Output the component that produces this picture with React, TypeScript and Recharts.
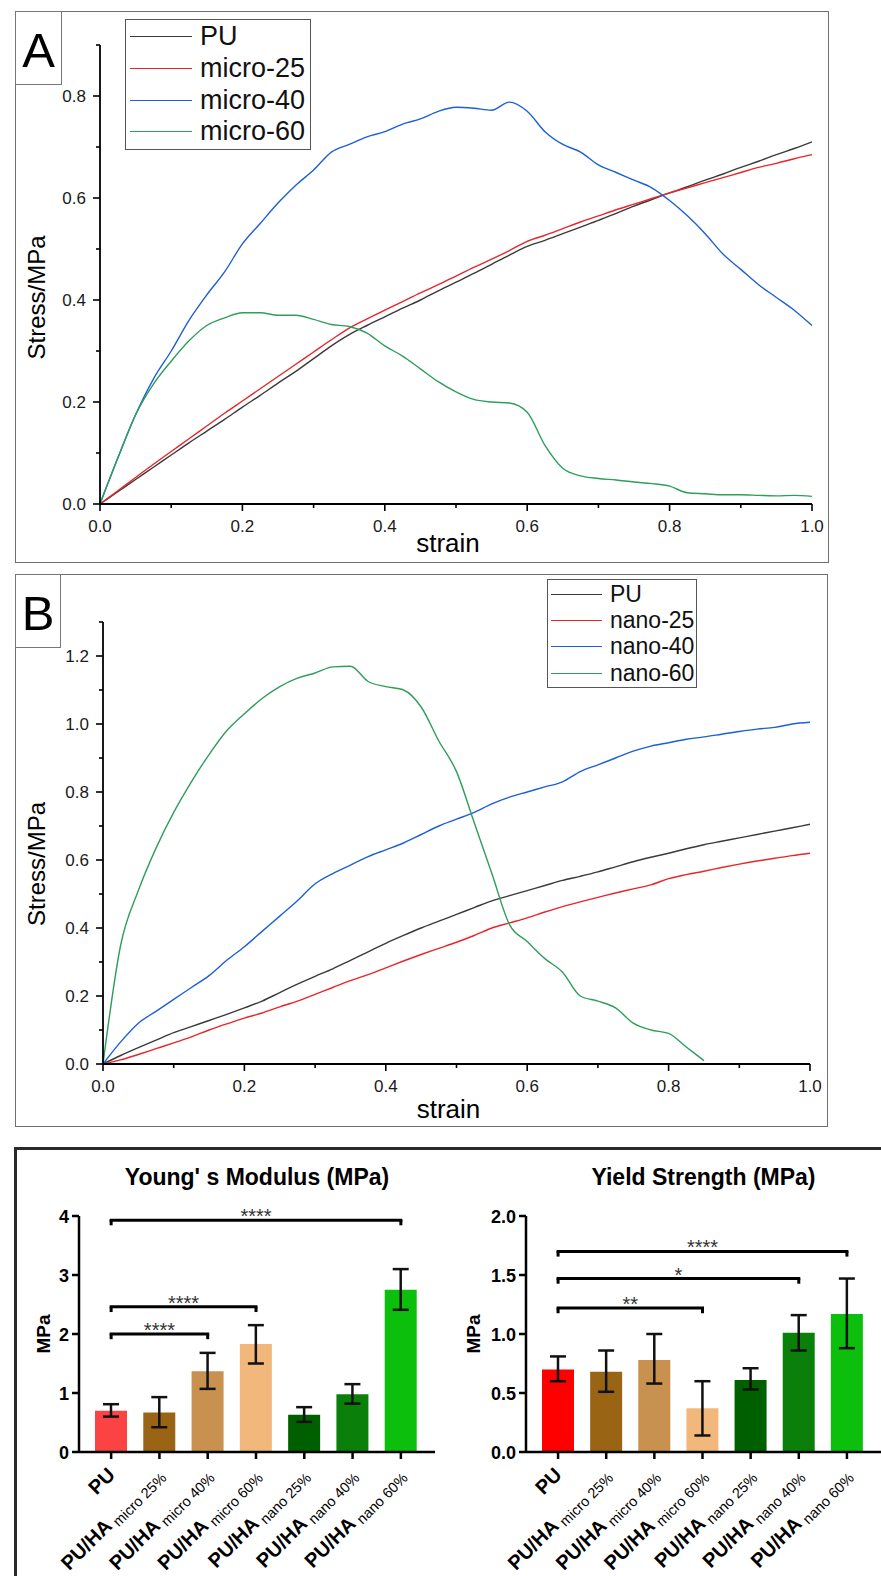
import React from "react";
import {
  LineChart,
  Line,
  XAxis,
  YAxis,
  Legend,
  BarChart,
  Bar,
  Cell,
  ErrorBar,
  ReferenceLine,
} from "recharts";

const FONT = '"Liberation Sans", Arial, sans-serif';

// ---- stress/strain curves, every 0.025 strain ----
const strain = [
  0, 0.025, 0.05, 0.075, 0.1, 0.125, 0.15, 0.175, 0.2, 0.225, 0.25, 0.275, 0.3, 0.325, 0.35, 0.375, 0.4,
  0.425, 0.45, 0.475, 0.5, 0.525, 0.55, 0.575, 0.6, 0.625, 0.65, 0.675, 0.7, 0.725, 0.75, 0.775, 0.8, 0.825,
  0.85, 0.875, 0.9, 0.925, 0.95, 0.975, 1.0,
];

// panel A
const puA = [
  0, 0.024, 0.048, 0.072, 0.096, 0.12, 0.143, 0.166, 0.19, 0.213, 0.237, 0.26, 0.285, 0.31, 0.332, 0.35,
  0.367, 0.384, 0.4, 0.418, 0.435, 0.452, 0.47, 0.488, 0.505, 0.517, 0.53, 0.543, 0.556, 0.57, 0.584, 0.597,
  0.61, 0.622, 0.635, 0.647, 0.66, 0.672, 0.685, 0.697, 0.71,
];
const micro25 = [
  0, 0.026, 0.052, 0.078, 0.103, 0.128, 0.153, 0.178, 0.202, 0.226, 0.25, 0.274, 0.298, 0.322, 0.345, 0.363,
  0.38, 0.397, 0.414, 0.43, 0.447, 0.464, 0.48, 0.497, 0.515, 0.527, 0.54, 0.553, 0.565, 0.577, 0.588, 0.599,
  0.61, 0.62, 0.63, 0.64, 0.65, 0.66, 0.668, 0.677, 0.685,
];
const micro40 = [
  0, 0.09, 0.175, 0.245, 0.3, 0.36, 0.41, 0.455, 0.51, 0.55, 0.59, 0.625, 0.655, 0.69, 0.705, 0.72, 0.73,
  0.745, 0.755, 0.77, 0.778, 0.776, 0.772, 0.788, 0.77, 0.73, 0.705, 0.69, 0.665, 0.65, 0.635, 0.62, 0.595,
  0.565, 0.53, 0.49, 0.46, 0.43, 0.405, 0.38, 0.35,
];
const micro60 = [
  0, 0.09, 0.175, 0.235, 0.28, 0.32, 0.35, 0.365, 0.375, 0.375, 0.37, 0.37, 0.362, 0.352, 0.348, 0.335, 0.31,
  0.29, 0.265, 0.24, 0.22, 0.205, 0.2, 0.198, 0.18, 0.115, 0.07, 0.055, 0.05, 0.047, 0.043, 0.04, 0.035,
  0.022, 0.02, 0.018, 0.018, 0.017, 0.016, 0.017, 0.015,
];

// panel B
const puB = [
  0, 0.025, 0.048, 0.07, 0.092, 0.11, 0.128, 0.146, 0.165, 0.185, 0.21, 0.235, 0.258, 0.28, 0.305, 0.33,
  0.355, 0.378, 0.4, 0.42, 0.44, 0.46, 0.48, 0.495, 0.51, 0.525, 0.54, 0.552, 0.565, 0.58, 0.595, 0.608, 0.62,
  0.633, 0.645, 0.655, 0.665, 0.675, 0.685, 0.695, 0.705,
];
const nano25 = [
  0, 0.012, 0.028, 0.045, 0.062, 0.08, 0.1, 0.118, 0.135, 0.15, 0.168, 0.185, 0.205, 0.225, 0.245, 0.263,
  0.283, 0.303, 0.322, 0.34, 0.358, 0.378, 0.4, 0.415, 0.43, 0.447, 0.463, 0.477, 0.49, 0.503, 0.515, 0.527,
  0.545, 0.557, 0.567, 0.578, 0.588, 0.597, 0.605, 0.613, 0.62,
];
const nano40 = [
  0, 0.065, 0.12, 0.155, 0.19, 0.225, 0.26, 0.305, 0.345, 0.39, 0.435, 0.48, 0.53, 0.56, 0.585, 0.61, 0.63,
  0.65, 0.675, 0.7, 0.72, 0.74, 0.765, 0.785, 0.8, 0.815, 0.83, 0.86, 0.88, 0.9, 0.92, 0.935, 0.945, 0.955,
  0.962, 0.97, 0.978, 0.985, 0.99, 1.0, 1.005,
];
// nano-60 breaks at ~0.85 strain
const nano60 = [
  0, 0.35, 0.51, 0.635, 0.74, 0.83, 0.91, 0.98, 1.03, 1.075, 1.11, 1.135, 1.15, 1.168, 1.17, 1.125, 1.11,
  1.1, 1.05, 0.95, 0.86, 0.71, 0.56, 0.41, 0.36, 0.31, 0.27, 0.2, 0.185, 0.165, 0.12, 0.1, 0.09, 0.05, 0.01,
];

const namesA = ["PU", "micro-25", "micro-40", "micro-60"];
const namesB = ["PU", "nano-25", "nano-40", "nano-60"];
const lineColors = ["#3a3a3a", "#e8262a", "#1d5fd6", "#2e9e5b"];

const strainTicks = [0, 0.1, 0.2, 0.3, 0.4, 0.5, 0.6, 0.7, 0.8, 0.9, 1.0];
const stressTicksA = [0, 0.1, 0.2, 0.3, 0.4, 0.5, 0.6, 0.7, 0.8, 0.9];
const stressTicksB = [0, 0.1, 0.2, 0.3, 0.4, 0.5, 0.6, 0.7, 0.8, 0.9, 1.0, 1.1, 1.2, 1.3];

const seriesA = [puA, micro25, micro40, micro60];
const seriesB = [puB, nano25, nano40, nano60];

const dataA = strain.map((s, i) => {
  const row: any = { strain: s };
  namesA.forEach((n, k) => (row[n] = seriesA[k][i]));
  return row;
});
const dataB = strain.map((s, i) => {
  const row: any = { strain: s };
  namesB.forEach((n, k) => (row[n] = seriesB[k][i]));
  return row;
});

// ---- bar charts ----
const groups = ["PU", "micro 25%", "micro 40%", "micro 60%", "nano 25%", "nano 40%", "nano 60%"];

const youngMean = [0.7, 0.67, 1.37, 1.83, 0.63, 0.98, 2.75];
const youngHigh = [0.81, 0.93, 1.68, 2.15, 0.76, 1.15, 3.1];
const youngLow = [0.6, 0.42, 1.07, 1.5, 0.51, 0.82, 2.41];

const yieldMean = [0.7, 0.68, 0.78, 0.37, 0.61, 1.01, 1.17];
const yieldHigh = [0.81, 0.86, 1.0, 0.6, 0.71, 1.16, 1.47];
const yieldLow = [0.6, 0.51, 0.58, 0.14, 0.53, 0.86, 0.88];

const youngColors = ["#fb4343", "#996515", "#c8914f", "#f2b87b", "#006000", "#0a7f0a", "#0cbf0c"];
const yieldColors = ["#ff0000", "#996515", "#c8914f", "#f2b87b", "#006000", "#0a7f0a", "#0cbf0c"];

const youngTicks = [0, 1, 2, 3, 4];
const yieldTicks = [0, 0.5, 1.0, 1.5, 2.0];

// significance brackets: [from, to, height, stars]
const youngBrackets: [string, string, number, string][] = [
  ["PU", "nano 60%", 3.93, "****"],
  ["PU", "micro 60%", 2.46, "****"],
  ["PU", "micro 40%", 2.0, "****"],
];
const yieldBrackets: [string, string, number, string][] = [
  ["PU", "nano 60%", 1.7, "****"],
  ["PU", "nano 40%", 1.47, "*"],
  ["PU", "micro 60%", 1.22, "**"],
];

const youngData = groups.map((g, i) => ({
  name: g,
  mean: youngMean[i],
  err: [youngMean[i] - youngLow[i], youngHigh[i] - youngMean[i]],
}));
const yieldData = groups.map((g, i) => ({
  name: g,
  mean: yieldMean[i],
  err: [yieldMean[i] - yieldLow[i], yieldHigh[i] - yieldMean[i]],
}));

// ---- ticks / labels ----
const isMajor = (v: number) => Math.round(v * 10) % 2 === 0;

const StrainTick = (props: any) => {
  const { x, y, payload } = props;
  const v = payload.value;
  const major = isMajor(v);
  return (
    <g>
      <line x1={x} x2={x} y1={y} y2={y + (major ? 7 : 4)} stroke="#000" strokeWidth={1.6} />
      {major && (
        <text x={x} y={y + 28} textAnchor="middle" fontSize={17} fontFamily={FONT} fill="#1a1a1a">
          {v.toFixed(1)}
        </text>
      )}
    </g>
  );
};

const StressTick = (props: any) => {
  const { x, y, payload } = props;
  const v = payload.value;
  const major = isMajor(v);
  return (
    <g>
      <line x1={x} x2={x - (major ? 7 : 4)} y1={y} y2={y} stroke="#000" strokeWidth={1.6} />
      {major && (
        <text x={x - 14} y={y + 6} textAnchor="end" fontSize={17} fontFamily={FONT} fill="#1a1a1a">
          {v.toFixed(1)}
        </text>
      )}
    </g>
  );
};

const xTitle = (text: string, dx: number, down: number, size: number) => (p: any) => {
  const vb = p.viewBox;
  return (
    <text x={vb.x + vb.width / 2 + dx} y={vb.y + down} textAnchor="middle" fontSize={size} fontFamily={FONT} fill="#000">
      {text}
    </text>
  );
};

const yTitle = (text: string, dx: number, dy: number, size: number, weight: string) => (p: any) => {
  const vb = p.viewBox;
  const cx = vb.x + dx;
  const cy = vb.y + vb.height / 2 + dy;
  return (
    <text
      x={cx}
      y={cy}
      transform={`rotate(-90 ${cx} ${cy})`}
      textAnchor="middle"
      dominantBaseline="central"
      fontSize={size}
      fontWeight={weight}
      fontFamily={FONT}
      fill="#000"
    >
      {text}
    </text>
  );
};

const GroupTick = (props: any) => {
  const { x, y, payload } = props;
  const name = payload.value;
  return (
    <g>
      <line x1={x} x2={x} y1={y} y2={y + 7} stroke="#000" strokeWidth={2.5} />
      <text
        transform={`translate(${x + 5},${y + 24}) rotate(-45)`}
        textAnchor="end"
        fontSize={20}
        fontWeight="bold"
        fontFamily={FONT}
        fill="#000"
      >
        {name === "PU" ? (
          "PU"
        ) : (
          <>
            PU/HA
            <tspan fontSize={14.5} fontWeight="normal" dx={4} dy={4}>
              {name}
            </tspan>
          </>
        )}
      </text>
    </g>
  );
};

const valueTick = (digits: number) => (props: any) => {
  const { x, y, payload } = props;
  return (
    <g>
      <line x1={x} x2={x - 7} y1={y} y2={y} stroke="#000" strokeWidth={2.5} />
      <text x={x - 10} y={y + 6.5} textAnchor="end" fontSize={18} fontWeight="bold" fontFamily={FONT} fill="#000">
        {payload.value.toFixed(digits)}
      </text>
    </g>
  );
};

function CurveLegend({ names, fontSize, rowH, lineLen, gap, inset }: any) {
  return (
    <div
      style={{
        border: "1px solid #555",
        background: "#fff",
        padding: `1px 0 1px ${inset}px`,
        boxSizing: "border-box",
        fontFamily: FONT,
        whiteSpace: "nowrap",
      }}
    >
      {names.map((n: string, i: number) => (
        <div key={n} style={{ display: "flex", alignItems: "center", height: rowH, whiteSpace: "nowrap" }}>
          <span
            style={{
              display: "inline-block",
              flex: "none",
              width: lineLen,
              height: 0,
              borderTop: `1.5px solid ${lineColors[i]}`,
              marginRight: gap,
            }}
          />
          <span style={{ fontSize, lineHeight: 1, color: "#111", whiteSpace: "nowrap" }}>{n}</span>
        </div>
      ))}
    </div>
  );
}

function PanelTag({ letter, left, top, w, h }: any) {
  return (
    <div
      style={{
        position: "absolute",
        left,
        top,
        width: w,
        height: h,
        boxSizing: "border-box",
        border: "1px solid #777",
        display: "flex",
        alignItems: "center",
        justifyContent: "center",
        paddingTop: 4,
        fontSize: 49,
        lineHeight: 1,
        fontFamily: FONT,
        color: "#000",
      }}
    >
      {letter}
    </div>
  );
}

function CurveChart({ data, names, yTicks, yMax, width, height, margin, xHeight, xTitleDown, yTitleDx, yTitleDy, legendStyle, legendFont, legendRow, legendLine, legendInset }: any) {
  return (
    <LineChart width={width} height={height} data={data} margin={margin}>
      <XAxis
        dataKey="strain"
        type="number"
        domain={[0, 1]}
        ticks={strainTicks}
        interval={0}
        height={xHeight}
        tickSize={0}
        tickMargin={0}
        tickLine={false}
        axisLine={{ stroke: "#000", strokeWidth: 1.8 }}
        tick={StrainTick}
        label={xTitle("strain", -8, xTitleDown, 26)}
      />
      <YAxis
        type="number"
        domain={[0, yMax]}
        ticks={yTicks}
        interval={0}
        width={60}
        tickSize={0}
        tickMargin={0}
        tickLine={false}
        axisLine={{ stroke: "#000", strokeWidth: 1.8 }}
        tick={StressTick}
        label={yTitle("Stress/MPa", yTitleDx, yTitleDy, 24, "normal")}
      />
      <Legend
        layout="vertical"
        align="center"
        verticalAlign="middle"
        wrapperStyle={legendStyle}
        content={() => (
          <CurveLegend names={names} fontSize={legendFont} rowH={legendRow} lineLen={legendLine} gap={8} inset={legendInset} />
        )}
      />
      {names.map((n: string, i: number) => (
        <Line
          key={n}
          dataKey={n}
          name={n}
          type="monotone"
          stroke={lineColors[i]}
          strokeWidth={1.4}
          dot={false}
          activeDot={false}
          isAnimationActive={false}
        />
      ))}
    </LineChart>
  );
}

function ModulusChart({ data, colors, ticks, yMax, digits, brackets, width, margin, yWidth, titleDx }: any) {
  return (
    <BarChart width={width} height={426} data={data} margin={margin}>
      <XAxis
        dataKey="name"
        interval={0}
        height={110}
        padding={{ left: 8, right: 10 }}
        tickSize={0}
        tickMargin={0}
        tickLine={false}
        axisLine={{ stroke: "#000", strokeWidth: 2.5 }}
        tick={GroupTick}
      />
      <YAxis
        type="number"
        domain={[0, yMax]}
        ticks={ticks}
        interval={0}
        width={yWidth}
        tickSize={0}
        tickMargin={0}
        tickLine={false}
        axisLine={{ stroke: "#000", strokeWidth: 2.5 }}
        tick={valueTick(digits)}
        label={yTitle("MPa", titleDx, 0, 19, "bold")}
      />
      <Bar dataKey="mean" barSize={32} isAnimationActive={false}>
        {data.map((d: any, i: number) => (
          <Cell key={d.name} fill={colors[i]} />
        ))}
        <ErrorBar dataKey="err" width={8} strokeWidth={2.5} stroke="#111" direction="y" isAnimationActive={false} />
      </Bar>
      {brackets.map(([from, to, h, stars]: any, i: number) => (
        <ReferenceLine
          key={`h${i}`}
          segment={[
            { x: from, y: h },
            { x: to, y: h },
          ]}
          stroke="#000"
          strokeWidth={3}
          strokeLinecap="square"
          label={{ value: stars, position: "top", offset: -3, fontSize: 20, fill: "#333", fontFamily: FONT }}
        />
      ))}
      {brackets.map(([from, to, h]: any, i: number) =>
        [from, to].map((g: string) => (
          <ReferenceLine
            key={`v${i}${g}`}
            segment={[
              { x: g, y: h },
              { x: g, y: h - yMax * 0.022 },
            ]}
            stroke="#000"
            strokeWidth={3}
          />
        )),
      )}
    </BarChart>
  );
}

export default function App() {
  return (
    <div
      style={{
        position: "absolute",
        left: 0,
        top: 0,
        width: 881,
        height: 1576,
        overflow: "hidden",
        background: "#fff",
        fontFamily: FONT,
      }}
    >
      {/* panel frames */}
      <div style={{ position: "absolute", left: 15, top: 11, width: 814, height: 552, boxSizing: "border-box", border: "1.5px solid #707070" }} />
      <div style={{ position: "absolute", left: 15, top: 574, width: 813, height: 553, boxSizing: "border-box", border: "1.5px solid #707070" }} />
      <div style={{ position: "absolute", left: 14, top: 1147, width: 900, height: 460, boxSizing: "border-box", border: "3px solid #2a2a2a" }} />
      <PanelTag letter="A" left={15} top={11} w={47} h={74} />
      <PanelTag letter="B" left={15} top={574} w={46} h={74} />

      <div style={{ position: "absolute", left: 0, top: 0 }}>
        <CurveChart
          data={dataA}
          names={namesA}
          yTicks={stressTicksA}
          yMax={0.9}
          width={881}
          height={570}
          margin={{ top: 45, right: 69, bottom: 18, left: 40 }}
          xHeight={48}
          xTitleDown={48}
          yTitleDx={-4}
          yTitleDy={23}
          legendStyle={{ left: 125, top: 19, width: 186 }}
          legendFont={27}
          legendRow={31.7}
          legendLine={62}
          legendInset={4}
        />
      </div>

      <div style={{ position: "absolute", left: 0, top: 560 }}>
        <CurveChart
          data={dataB}
          names={namesB}
          yTicks={stressTicksB}
          yMax={1.3}
          width={881}
          height={580}
          margin={{ top: 62, right: 71, bottom: 22, left: 43 }}
          xHeight={54}
          xTitleDown={54}
          yTitleDx={-7}
          yTitleDy={21}
          legendStyle={{ left: 547, top: 19, width: 150 }}
          legendFont={23}
          legendRow={26.3}
          legendLine={51}
          legendInset={3}
        />
      </div>

      <div style={{ position: "absolute", left: 79, top: 1163, width: 356, textAlign: "center", fontSize: 23, fontWeight: "bold", lineHeight: "28px" }}>
        Young' s Modulus (MPa)
      </div>
      <div style={{ position: "absolute", left: 526, top: 1163, width: 355, textAlign: "center", fontSize: 23, fontWeight: "bold", lineHeight: "28px" }}>
        Yield Strength (MPa)
      </div>

      <div style={{ position: "absolute", left: 0, top: 1150 }}>
        <ModulusChart
          data={youngData}
          colors={youngColors}
          ticks={youngTicks}
          yMax={4}
          digits={0}
          brackets={youngBrackets}
          width={440}
          margin={{ top: 66, right: 5, bottom: 14, left: 20 }}
          yWidth={59}
          titleDx={23}
        />
      </div>
      <div style={{ position: "absolute", left: 440, top: 1150 }}>
        <ModulusChart
          data={yieldData}
          colors={yieldColors}
          ticks={yieldTicks}
          yMax={2}
          digits={1}
          brackets={yieldBrackets}
          width={441}
          margin={{ top: 66, right: 0, bottom: 14, left: 20 }}
          yWidth={66}
          titleDx={13}
        />
      </div>
    </div>
  );
}
